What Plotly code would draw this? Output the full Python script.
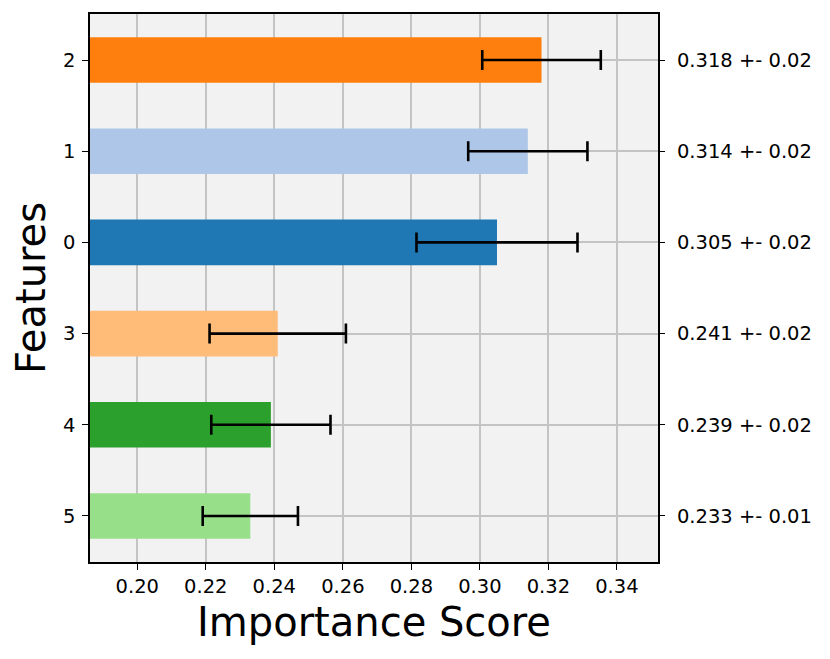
import plotly.graph_objects as go

features = ["2", "1", "0", "3", "4", "5"]  # top to bottom
scores = [0.318, 0.314, 0.305, 0.241, 0.239, 0.233]
errors = [0.0173, 0.0174, 0.0235, 0.0199, 0.0174, 0.0139]
colors = ["#ff7f0e", "#aec7e8", "#1f77b4", "#ffbb78", "#2ca02c", "#98df8a"]
right_labels = ["0.318 +- 0.02", "0.314 +- 0.02", "0.305 +- 0.02",
                "0.241 +- 0.02", "0.239 +- 0.02", "0.233 +- 0.01"]
x_ticks = [0.20, 0.22, 0.24, 0.26, 0.28, 0.30, 0.32, 0.34]

n = len(features)
ypos = [n - 1 - i for i in range(n)]

FONT = "DejaVu Sans"
TICK = 19.5

fig = go.Figure()
fig.add_trace(go.Bar(
    x=scores, y=ypos, orientation="h", width=0.5,
    marker=dict(color=colors, line=dict(width=0)),
    base=0,
    error_x=dict(type="data", array=errors, color="black", thickness=2.6, width=10),
    showlegend=False,
))
fig.add_trace(go.Scatter(
    x=scores, y=ypos, yaxis="y2", mode="markers",
    marker=dict(opacity=0), showlegend=False, hoverinfo="skip",
))

yrange = [-0.505, n - 1 + 0.505]
fig.update_layout(
    width=830, height=659,
    margin=dict(l=90, r=172, t=14, b=97),
    paper_bgcolor="white",
    plot_bgcolor="#f2f2f2",
    font=dict(family=FONT, size=TICK, color="black"),
    xaxis=dict(
        range=[0.1862, 0.352],
        tickvals=x_ticks,
        ticktext=[f"{v:.2f}" for v in x_ticks],
        showgrid=True, gridcolor="#c4c4c4", gridwidth=1.6,
        ticks="outside", ticklen=6, tickwidth=1.3, tickcolor="black",
        showline=True, linecolor="black", linewidth=1.5, mirror=True,
        zeroline=False,
        title=dict(text="Importance Score", font=dict(size=40, family=FONT), standoff=11),
        tickfont=dict(size=TICK),
    ),
    yaxis=dict(
        range=yrange,
        tickvals=ypos, ticktext=features,
        showgrid=True, gridcolor="#c4c4c4", gridwidth=1.6,
        ticks="outside", ticklen=6, tickwidth=1.3, tickcolor="black",
        showline=True, linecolor="black", linewidth=1.5, mirror=True,
        zeroline=False, ticklabelstandoff=3,
        title=dict(text="Features", font=dict(size=40, family=FONT), standoff=5),
        tickfont=dict(size=TICK),
    ),
    yaxis2=dict(
        range=yrange, overlaying="y", side="right",
        tickvals=ypos, ticktext=right_labels,
        showgrid=False, zeroline=False,
        ticks="outside", ticklen=6, tickwidth=1.3, tickcolor="black",
        showline=False, ticklabelstandoff=8,
        tickfont=dict(size=TICK),
    ),
)

fig.write_html("out.html", config={"displayModeBar": False})
with open("out.html", "r", encoding="utf-8") as f:
    html = f.read()
html = html.replace("<body>", '<body style="margin:0;padding:0;">', 1)
with open("out.html", "w", encoding="utf-8") as f:
    f.write(html)
